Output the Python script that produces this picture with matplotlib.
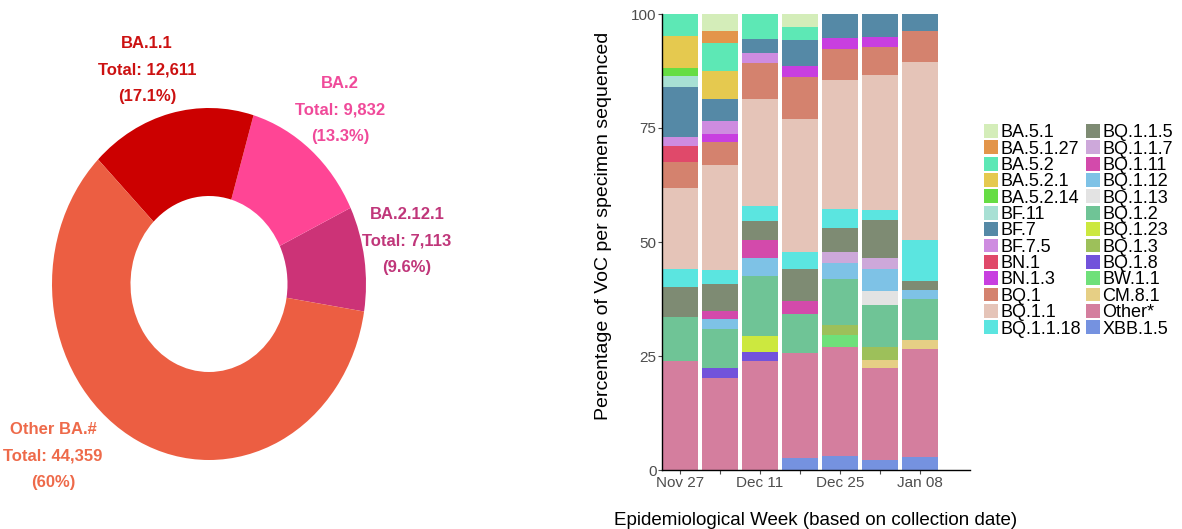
import numpy as np
import matplotlib
matplotlib.use("Agg")
from matplotlib import pyplot as plt
from matplotlib.patches import Patch

plt.rcParams["font.family"] = ["Liberation Sans", "DejaVu Sans"]

# donut data
donut_labels = ["BA.2.12.1", "BA.2", "BA.1.1", "Other BA.#"]
donut_totals = [7113, 9832, 12611, 44359]
donut_pct = ["9.6%", "13.3%", "17.1%", "60%"]
donut_colors = ["#CC3377", "#FF4595", "#CC0000", "#EC5E42"]
donut_text_colors = ["#C0367A", "#F04A9A", "#CC1111", "#EE6A4A"]

# stacked bars
weeks = ["Nov 27", "Dec 04", "Dec 11", "Dec 18", "Dec 25", "Jan 01", "Jan 08"]
week_ticklabels = ["Nov 27", "", "Dec 11", "", "Dec 25", "", "Jan 08"]

lineages = ["BA.5.1", "BA.5.1.27", "BA.5.2", "BA.5.2.1", "BA.5.2.14", "BF.11", "BF.7",
            "BF.7.5", "BN.1", "BN.1.3", "BQ.1", "BQ.1.1", "BQ.1.1.18", "BQ.1.1.5",
            "BQ.1.1.7", "BQ.1.11", "BQ.1.12", "BQ.1.13", "BQ.1.2", "BQ.1.23", "BQ.1.3",
            "BQ.1.8", "BW.1.1", "CM.8.1", "Other*", "XBB.1.5"]
lineage_colors = ["#D4EDB9", "#E3954A", "#5DE8B5", "#E5C94F", "#66DD44", "#A8E0D4", "#5589A6",
                  "#CE8CE0", "#E0496A", "#C83FE0", "#D4826E", "#E5C4B8", "#5BE5E0", "#7E8B73",
                  "#CDA8DA", "#D34AAB", "#7EC2E6", "#E3E3E3", "#6FC496", "#CCE83F", "#9DC05A",
                  "#7253DB", "#6FE07A", "#E6CF85", "#D47E9E", "#7592E0"]

# percent per week, one list per lineage (same order as weeks)
pct = {
    "BA.5.1":    [0, 3.7, 0, 2.9, 0, 0, 0],
    "BA.5.1.27": [0, 2.7, 0, 0, 0, 0, 0],
    "BA.5.2":    [4.8, 6.1, 5.5, 2.7, 0, 0, 0],
    "BA.5.2.1":  [7.0, 6.2, 0, 0, 0, 0, 0],
    "BA.5.2.14": [1.9, 0, 0, 0, 0, 0, 0],
    "BF.11":     [2.2, 0, 0, 0, 0, 0, 0],
    "BF.7":      [11.0, 4.7, 3.1, 5.8, 5.3, 5.1, 3.7],
    "BF.7.5":    [2.0, 3.0, 2.1, 0, 0, 0, 0],
    "BN.1":      [3.5, 0, 0, 0, 0, 0, 0],
    "BN.1.3":    [0, 1.6, 0, 2.5, 2.4, 2.1, 0],
    "BQ.1":      [5.8, 5.1, 8.0, 9.2, 6.8, 6.2, 6.8],
    "BQ.1.1":    [17.7, 23.0, 23.4, 29.2, 28.3, 29.6, 39.1],
    "BQ.1.1.18": [4.0, 3.2, 3.3, 3.6, 4.2, 2.2, 8.9],
    "BQ.1.1.5":  [6.5, 5.8, 4.2, 7.0, 5.3, 8.4, 2.0],
    "BQ.1.1.7":  [0, 0, 0, 0, 2.2, 2.4, 0],
    "BQ.1.11":   [0, 1.7, 4.0, 2.9, 0, 0, 0],
    "BQ.1.12":   [0, 2.3, 3.8, 0, 3.6, 4.7, 2.1],
    "BQ.1.13":   [0, 0, 0, 0, 0, 3.1, 0],
    "BQ.1.2":    [9.8, 8.6, 13.2, 8.5, 10.1, 9.2, 8.9],
    "BQ.1.23":   [0, 0, 3.6, 0, 0, 0, 0],
    "BQ.1.3":    [0, 0, 0, 0, 2.3, 2.9, 0],
    "BQ.1.8":    [0, 2.2, 1.8, 0, 0, 0, 0],
    "BW.1.1":    [0, 0, 0, 0, 2.5, 0, 0],
    "CM.8.1":    [0, 0, 0, 0, 0, 1.7, 2.0],
    "Other*":    [23.8, 20.1, 24.0, 23.1, 24.0, 20.1, 23.6],
    "XBB.1.5":   [0, 0, 0, 2.6, 3.0, 2.3, 2.9],
}

W, H = 1182, 529
fig = plt.figure(figsize=(W / 100, H / 100), dpi=100)

# ---- donut (left) ----
cx, cy, rx, ry = 209, 284, 157, 176
ax1 = fig.add_axes([(cx - rx) / W, 1 - (cy + ry) / H, 2 * rx / W, 2 * ry / H])
ax1.pie(donut_totals, colors=donut_colors, startangle=-9, counterclock=True,
        radius=1, wedgeprops=dict(width=0.5, linewidth=0))
ax1.set_aspect("auto")
ax1.set_xlim(-1, 1)
ax1.set_ylim(-1, 1)
ax1.axis("off")

label_pos = [(1.261, 0.244), (0.834, 0.989), (-0.395, 1.216), (-0.994, -0.977)]
for name, tot, p, col, (lx, ly) in zip(donut_labels, donut_totals, donut_pct,
                                       donut_text_colors, label_pos):
    ax1.text(lx, ly, "{}\nTotal: {:,}\n({})".format(name, tot, p), color=col,
             fontsize=12, fontweight="bold", ha="center", va="center",
             linespacing=1.95, clip_on=False)

# ---- stacked bars (right) ----
ax2 = fig.add_axes([662 / W, 1 - 470 / H, (970 - 662) / W, (470 - 14) / H])
x = np.arange(len(weeks))
bottom = np.zeros(len(weeks))
for name, col in zip(lineages[::-1], lineage_colors[::-1]):
    vals = np.array(pct[name])
    ax2.bar(x, vals, width=0.9, bottom=bottom, color=col, linewidth=0)
    bottom += vals

ax2.set_xlim(-0.45, 7.25)
ax2.set_ylim(0, 100)
ax2.set_yticks([0, 25, 50, 75, 100])
ax2.set_xticks(x)
ax2.set_xticklabels(week_ticklabels)
for s in ["top", "right"]:
    ax2.spines[s].set_visible(False)
for s in ["left", "bottom"]:
    ax2.spines[s].set_color("black")
    ax2.spines[s].set_linewidth(1)
ax2.tick_params(colors="#4D4D4D", labelsize=11, length=3, pad=1)
ax2.set_ylabel("Percentage of VoC per specimen sequenced", fontsize=14)
ax2.yaxis.set_label_coords(-0.163, 0.535)
ax2.set_xlabel("Epidemiological Week (based on collection date)", fontsize=13.5, labelpad=16)

handles = [Patch(facecolor=c, edgecolor="none") for c in lineage_colors]
fig.legend(handles, lineages, ncol=2, loc="upper left",
           bbox_to_anchor=(984 / W, 1 - 124 / H), frameon=False, fontsize=13,
           handlelength=0.8, handleheight=0.8, handletextpad=0.12,
           labelspacing=-0.045, columnspacing=0.25, borderpad=0, borderaxespad=0)

fig.savefig("out.png", dpi=100)
